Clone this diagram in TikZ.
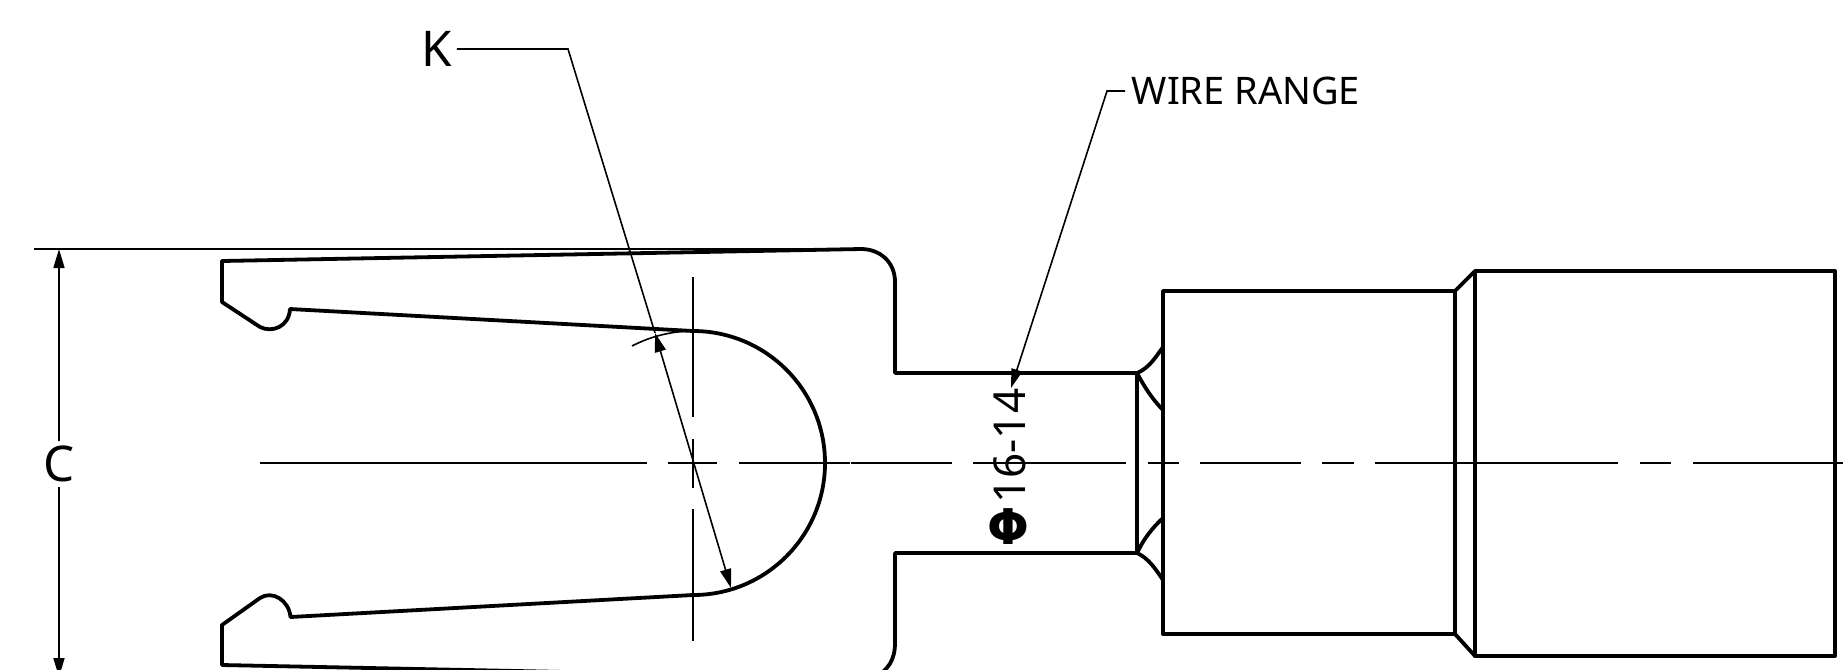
\documentclass[tikz,border=0pt]{standalone}
\usepackage{fontspec}
\setmainfont{Noto Sans}
\newfontfamily\phifont{DejaVu Sans}
\usetikzlibrary{arrows.meta}
\tikzset{
 part/.style={black, line width=.038cm, line join=round, line cap=round},
 thin line/.style={black, line width=.016cm},
 dim arrow/.style={thin line, -{Triangle[length=.19cm, width=.11cm]}},
 dim both/.style={thin line, {Triangle[length=.19cm, width=.11cm]}-{Triangle[length=.19cm, width=.11cm]}},
 big lbl/.style={inner sep=.04cm, font=\fontsize{14}{14}\selectfont},
 lbl/.style={inner sep=0, font=\fontsize{10.8}{12}\selectfont},
}
\begin{document}
\begin{tikzpicture}[x=.01cm, y=-.01cm]
\useasboundingbox (0,0) rectangle (1843,669);
\clip (0,0) rectangle (1843,669);
% fork outline
\draw[part] (222,261) -- (861,249) .. controls (880,249) and (895,262) .. (895,282) -- (895,373) -- (1137,373);
\draw[part] (222,261) -- (222,302) -- (260,327) .. controls (272,333) and (289,327) .. (290,309) -- (693,331)
 arc (-90:90:132) -- (290.5,617) .. controls (289,600) and (272,590) .. (260,598) -- (222,625) -- (222,665) -- (861,678);
\draw[part] (1137,553) -- (895,553) -- (895,643) .. controls (895,660) and (888,670) .. (875,677);
\draw[thin line] (632,346) arc (-117.5:-90:132);
% barrel
\draw[part] (1137,373) -- (1137,553);
\draw[part] (1137,373) .. controls (1149,368) and (1155,358) .. (1163,347);
\draw[part] (1137,373) .. controls (1145,388) and (1153,400) .. (1163,410);
\draw[part] (1137,553) .. controls (1143,540) and (1152,528) .. (1163,518);
\draw[part] (1137,553) .. controls (1148,558) and (1155,568) .. (1163,580);
\draw[part] (1163,291) rectangle (1455,634);
\draw[part] (1475,271) rectangle (1835,656);
\draw[part] (1455,291) -- (1475,271);
\draw[part] (1455,634) -- (1475,656);
% center lines
\foreach \a/\b in {260/647, 668/717, 739/850, 851/952, 973/1126, 1148/1179, 1200/1301, 1322/1354, 1375/1618, 1640/1671, 1693/1843} {
 \draw[thin line] (\a,463) -- (\b,463);
}
\foreach \a/\b in {277/417, 439/488, 509/641} {
 \draw[thin line] (693,\a) -- (693,\b);
}
% dim C
\node[big lbl] (C) at (59,464) {C};
\coordinate (Ctop) at (59,249);
\coordinate (Cbot) at (59,677);
\draw[thin line] (34,249) -- (861,249);
\draw[dim arrow] (C) -- (Ctop);
\draw[dim arrow] (C) -- (Cbot);
% dim K
\node[big lbl] (K) at (437,49) {K};
\coordinate (Kbend) at (568,49);
\coordinate (Ka) at (655,333);
\coordinate (Kb) at (731,588);
\draw[thin line] (K.east) -- (Kbend) -- (Ka);
\draw[dim both] (Ka) -- (Kb);
% wire range
\node[lbl, anchor=west] (WR) at (1131,91) {WIRE RANGE};
\coordinate (WRbend) at (1107,91);
\coordinate (WRtip) at (1011,388);
\draw[dim arrow] (WR.west) ++(-6,0) -- (WRbend) -- (WRtip);
\node[lbl, rotate=90, anchor=base east, font=\fontsize{12.5}{13}\selectfont] (gauge) at (1025,388)
 {\raisebox{10.7pt}{\rotatebox{-90}{\fontsize{14}{14}\phifont\bfseries Φ}}\hspace{1.5pt}16-14};
\end{tikzpicture}
\end{document}
